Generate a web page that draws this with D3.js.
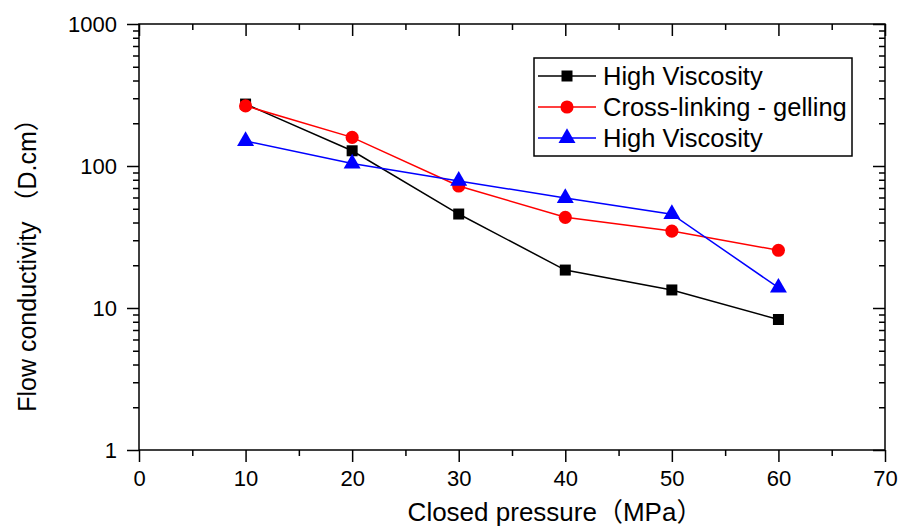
<!DOCTYPE html>
<html>
<head>
<meta charset="utf-8">
<script src="https://cdn.jsdelivr.net/npm/d3@7"></script>
<style>
  body { margin: 0; background: #fff; }
  svg text { font-family: "Liberation Sans", Arial, "Noto Sans CJK SC", sans-serif; }
</style>
</head>
<body>
<svg id="chart"></svg>
<script>
// closed pressure (MPa)
const pressures = [10, 20, 30, 40, 50, 60];
// flow conductivity (D.cm)
const highViscA = [273, 128, 45.9, 18.5, 13.4, 8.3];
const crossLink = [265, 159, 72.3, 43.5, 34.8, 25.5];
const highViscB = [150, 104, 78.5, 59.5, 45.8, 13.9];
const seriesNames = ['High Viscosity', 'Cross-linking - gelling', 'High Viscosity'];
const xTicks = [0, 10, 20, 30, 40, 50, 60, 70];
const yTicks = [1, 10, 100, 1000];

const chartHelper = (function () {
  const ch = {};

  ch.draw = function (svgId) {
    const width = 902, height = 527;
    const margin = {left: 139, right: 17, top: 24, bottom: 77};
    const svg = d3.select(`#${svgId}`)
      .attr('width', width)
      .attr('height', height);

    const xScale = d3.scaleLinear()
      .domain([0, 70])
      .range([margin.left, width - margin.right]);

    const yScale = d3.scaleLog()
      .domain([1, 1000])
      .range([height - margin.bottom, margin.top]);

    const xMinor = d3.range(5, 70, 10);
    const yMinor = [];
    [1, 10, 100].forEach(dec => d3.range(2, 10).forEach(k => yMinor.push(dec * k)));

    const x0 = xScale.range()[0], x1 = xScale.range()[1];
    const y0 = yScale.range()[0], y1 = yScale.range()[1];

    const styleAxis = g => {
      g.select('.domain').remove();
      g.selectAll('line').attr('stroke', '#000').attr('stroke-width', 1.5);
    };

    // minor ticks
    svg.append('g').attr('transform', `translate(0,${y0})`)
      .call(d3.axisBottom(xScale).tickValues(xMinor).tickSize(6).tickFormat(''))
      .call(styleAxis);
    svg.append('g').attr('transform', `translate(0,${y1})`)
      .call(d3.axisBottom(xScale).tickValues(xMinor).tickSize(6).tickFormat(''))
      .call(styleAxis);
    svg.append('g').attr('transform', `translate(${x0},0)`)
      .call(d3.axisLeft(yScale).tickValues(yMinor).tickSize(6).tickFormat(''))
      .call(styleAxis);
    svg.append('g').attr('transform', `translate(${x1},0)`)
      .call(d3.axisLeft(yScale).tickValues(yMinor).tickSize(6).tickFormat(''))
      .call(styleAxis);

    // major ticks with labels
    const xAxisG = svg.append('g').attr('transform', `translate(0,${y0})`)
      .call(d3.axisBottom(xScale).tickValues(xTicks).tickSize(12).tickPadding(8)
        .tickFormat(d3.format('d')))
      .call(styleAxis);
    xAxisG.selectAll('text').attr('font-size', 22).attr('fill', '#000');

    const yAxisG = svg.append('g').attr('transform', `translate(${x0},0)`)
      .call(d3.axisLeft(yScale).tickValues(yTicks).tickSize(12).tickPadding(10)
        .tickFormat(d3.format('d')))
      .call(styleAxis);
    yAxisG.selectAll('text').attr('font-size', 22).attr('fill', '#000');

    // top and right: inward major ticks
    svg.append('g').attr('transform', `translate(0,${y1})`)
      .call(d3.axisBottom(xScale).tickValues(xTicks).tickSize(12).tickFormat(''))
      .call(styleAxis);
    svg.append('g').attr('transform', `translate(${x1},0)`)
      .call(d3.axisLeft(yScale).tickValues(yTicks).tickSize(12).tickFormat(''))
      .call(styleAxis);

    // frame
    svg.append('rect')
      .attr('x', x0).attr('y', y1)
      .attr('width', x1 - x0).attr('height', y0 - y1)
      .attr('fill', 'none').attr('stroke', '#000').attr('stroke-width', 1.5);

    // axis titles
    svg.append('text')
      .attr('x', 555).attr('y', 521)
      .attr('text-anchor', 'middle')
      .attr('font-size', 26)
      .text('Closed pressure（MPa）');

    svg.append('text')
      .attr('transform', 'translate(36,259) rotate(-90)')
      .attr('text-anchor', 'middle')
      .attr('font-size', 25)
      .text('Flow conductivity （D.cm）');

    const series = [
      {name: seriesNames[0], values: highViscA, color: '#000', shape: d3.symbolSquare, size: 121},
      {name: seriesNames[1], values: crossLink, color: '#f00', shape: d3.symbolCircle, size: 135},
      {name: seriesNames[2], values: highViscB, color: '#00f', shape: d3.symbolTriangle, size: 125}
    ];

    const line = d3.line()
      .x(d => xScale(d[0]))
      .y(d => yScale(d[1]));

    series.forEach(s => {
      const pts = pressures.map((p, i) => [p, s.values[i]]);
      const g = svg.append('g');
      g.append('path')
        .datum(pts)
        .attr('d', line)
        .attr('fill', 'none')
        .attr('stroke', s.color)
        .attr('stroke-width', 1.5);
      g.selectAll('path.mark')
        .data(pts).enter()
        .append('path')
        .attr('class', 'mark')
        .attr('transform', d => `translate(${xScale(d[0])},${yScale(d[1])})`)
        .attr('d', d3.symbol().type(s.shape).size(s.size))
        .attr('fill', s.color);
    });

    // legend
    const lg = svg.append('g');
    lg.append('rect')
      .attr('x', 534).attr('y', 58)
      .attr('width', 318).attr('height', 98)
      .attr('fill', '#fff').attr('stroke', '#000').attr('stroke-width', 1.5);
    series.forEach((s, i) => {
      const yy = 76 + i * 31;
      lg.append('line')
        .attr('x1', 538).attr('x2', 596)
        .attr('y1', yy).attr('y2', yy)
        .attr('stroke', s.color).attr('stroke-width', 1.5);
      lg.append('path')
        .attr('transform', `translate(567,${yy})`)
        .attr('d', d3.symbol().type(s.shape).size(s.size))
        .attr('fill', s.color);
      lg.append('text')
        .attr('x', 603).attr('y', yy + 9)
        .attr('font-size', 25.5)
        .text(s.name);
    });

    return svg;
  };

  return ch;
})();

chartHelper.draw('chart');
</script>
</body>
</html>
